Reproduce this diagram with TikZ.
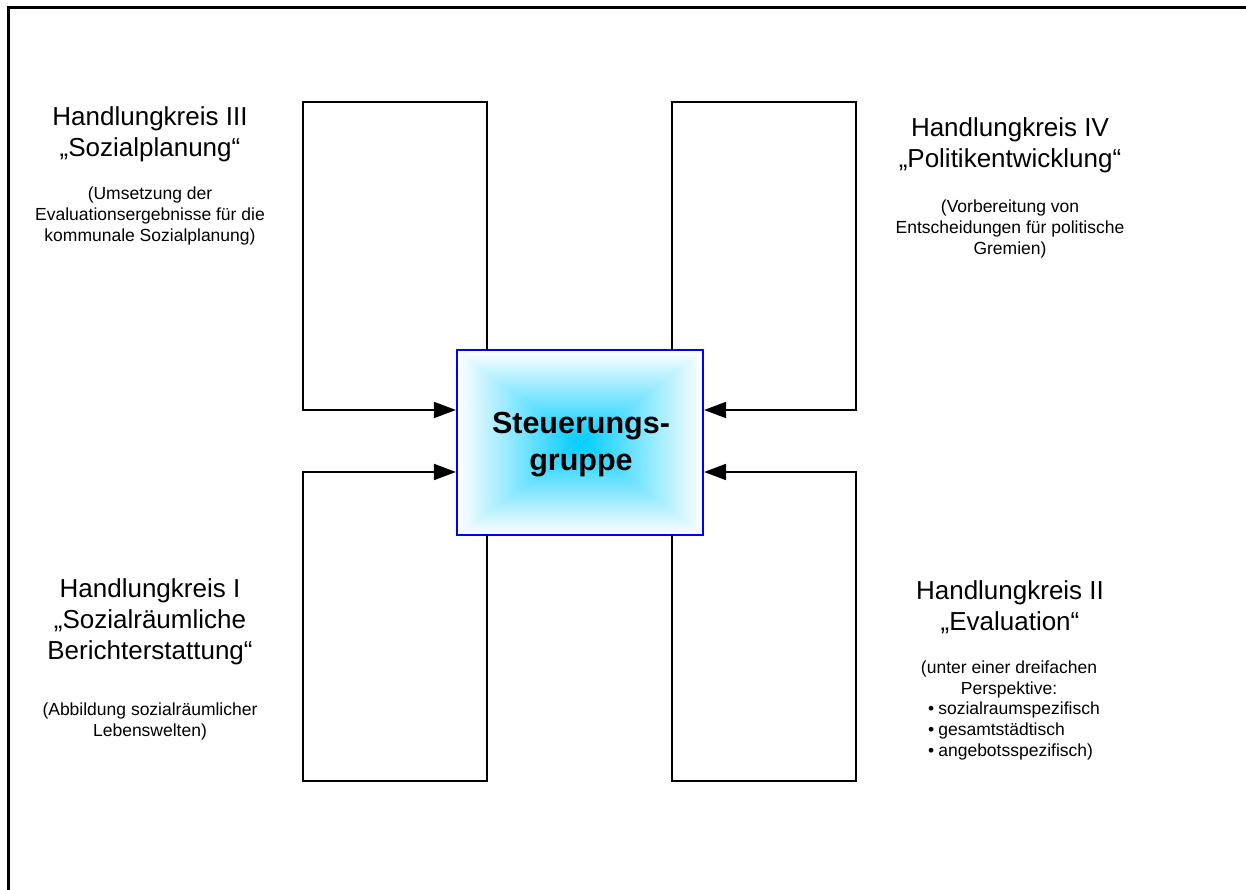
\documentclass[tikz,border=0pt]{standalone}
\usepackage{fontspec}
\setmainfont{Liberation Sans}
\usetikzlibrary{arrows.meta}
\definecolor{sgcyan}{RGB}{0,204,255}
\definecolor{sgblue}{RGB}{0,0,255}
\tikzset{
  loopline/.style={line width=2pt, black, line join=miter},
  looparrow/.style={loopline, -{Triangle[length=22pt,width=16pt]}},
  frameline/.style={line width=3pt, black},
  bigtext/.style={inner sep=0pt, align=center, font=\fontsize{26}{31}\selectfont},
  smalltext/.style={inner sep=0pt, align=center, font=\fontsize{17.5}{21}\selectfont},
  listtext/.style={inner sep=0pt, align=left, font=\fontsize{17.5}{21}\selectfont},
  sgbox/.style={draw=sgblue, line width=2.2pt, minimum width=246pt, minimum height=185pt, inner sep=0pt, align=center},
  sgtext/.style={inner sep=0pt, align=center, font=\bfseries\fontsize{30.5}{37}\selectfont}
}
\begin{document}
\begin{tikzpicture}[x=1pt,y=1pt]
\useasboundingbox (0,0) rectangle (1246,890);
% frame
\draw[frameline] (8,0) -- (8,882) -- (1246,882);
% pyramid gradient of the central box
\begin{scope}
\clip (457,540) -- (703,540) -- (580,447.5) -- cycle;
\shade[top color=white, bottom color=sgcyan] (457,540) rectangle (703,447.5);
\end{scope}
\begin{scope}
\clip (457,355) -- (703,355) -- (580,447.5) -- cycle;
\shade[top color=sgcyan, bottom color=white] (457,447.5) rectangle (703,355);
\end{scope}
\begin{scope}
\clip (457,540) -- (457,355) -- (580,447.5) -- cycle;
\shade[left color=white, right color=sgcyan] (457,355) rectangle (580,540);
\end{scope}
\begin{scope}
\clip (703,540) -- (703,355) -- (580,447.5) -- cycle;
\shade[left color=sgcyan, right color=white] (580,355) rectangle (703,540);
\end{scope}
\node[sgbox] (sg) at (580,447.5) {};
\node[sgtext] (sgt) at (581,445) {Steuerungs-\\gruppe};
% loops
\coordinate (tlA) at (487,540);
\coordinate (trA) at (672,540);
\coordinate (blA) at (487,355);
\coordinate (brA) at (672,355);
\draw[looparrow] (tlA) -- (487,788) -- (303,788) -- (303,480) -- (sg.west |- 0,480);
\draw[looparrow] (trA) -- (672,788) -- (856,788) -- (856,480) -- (sg.east |- 0,480);
\draw[looparrow] (blA) -- (487,109) -- (303,109) -- (303,418) -- (sg.west |- 0,418);
\draw[looparrow] (brA) -- (672,109) -- (856,109) -- (856,418) -- (sg.east |- 0,418);
% texts
\node[bigtext] (t3) at (150,756) {Handlungkreis III\\„Sozialplanung“};
\node[smalltext] (s3) at (150,674) {(Umsetzung der\\Evaluationsergebnisse für die\\kommunale Sozialplanung)};
\node[bigtext] (t4) at (1010,744.5) {Handlungkreis IV\\„Politikentwicklung“};
\node[smalltext] (s4) at (1010,661) {(Vorbereitung von\\Entscheidungen für politische\\Gremien)};
\node[bigtext] (t1) at (150,268) {Handlungkreis I\\„Sozialräumliche\\Berichterstattung“};
\node[smalltext] (s1) at (150,169) {(Abbildung sozialräumlicher\\Lebenswelten)};
\node[bigtext] (t2) at (1010,283) {Handlungkreis II\\„Evaluation“};
\node[smalltext] (s2) at (1009,210.5) {(unter einer dreifachen\\Perspektive:};
\node[listtext, anchor=west] (l2) at (928,159) {•\hspace{4pt}sozialraumspezifisch\\•\hspace{4pt}gesamtstädtisch\\•\hspace{4pt}angebotsspezifisch)};
\end{tikzpicture}
\end{document}
